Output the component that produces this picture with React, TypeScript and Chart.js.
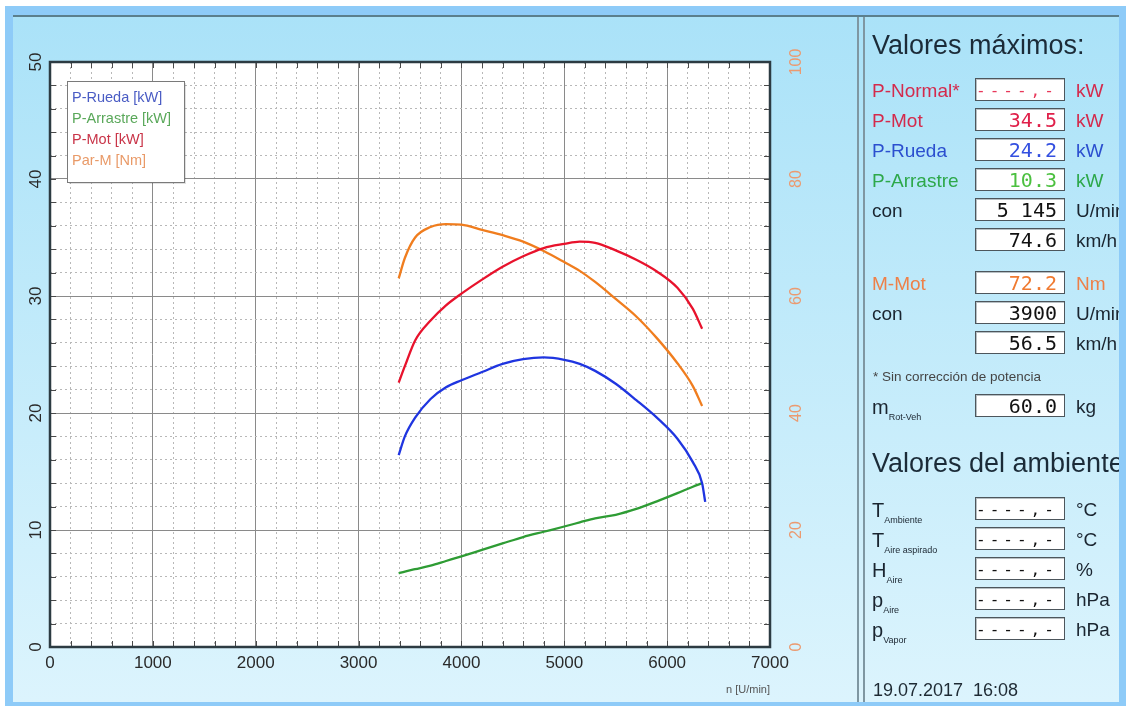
import React, { useEffect, useRef } from 'react';
import { Chart, registerables } from 'chart.js';

Chart.register(...registerables);

// ---------- chart data ----------
const rpm = [3390, 3450, 3550, 3700, 3850, 4000, 4200, 4400, 4600, 4800, 5000, 5150, 5300, 5500, 5700, 5900, 6100, 6250, 6340, 6370];
const pRueda = [16.4, 18.0, 19.6, 21.2, 22.2, 22.8, 23.5, 24.2, 24.6, 24.75, 24.55, 24.2, 23.6, 22.5, 21.1, 19.6, 17.8, 15.8, 14.0, 12.4];
const pArrastre = [6.3, 6.45, 6.65, 6.95, 7.35, 7.75, 8.3, 8.85, 9.4, 9.85, 10.3, 10.65, 11.0, 11.3, 11.8, 12.45, 13.15, 13.7, 14.0, null];
const pMot = [22.6, 24.0, 26.2, 27.9, 29.2, 30.2, 31.4, 32.5, 33.4, 34.1, 34.45, 34.65, 34.55, 33.9, 33.1, 32.1, 30.7, 28.9, 27.2, null];
const parM = [63.0, 66.5, 70.0, 71.8, 72.3, 72.2, 71.3, 70.4, 69.3, 67.7, 65.8, 64.3, 62.4, 59.5, 56.5, 52.8, 48.5, 44.6, 41.2, null];

const seriesLabels = ['P-Rueda [kW]', 'P-Arrastre [kW]', 'P-Mot [kW]', 'Par-M [Nm]'];
const seriesColors = ['#1f35e0', '#2e9c34', '#e8122c', '#f07d1e'];
const legendTextColors = ['#4a5cc4', '#5aa85a', '#c93448', '#e99a68'];

const xMajor = 1000;
const yMajor = 10;
const y2Major = 20;

const FONT = '"Liberation Sans", Arial, sans-serif';

// ---------- panel texts ----------
const maxRows = [
  { y: 90, label: 'P-Normal*', lc: '#d42a4c', value: '----,-', vc: '#e8385a', unit: 'kW', uc: '#d42a4c', dash: true },
  { y: 120, label: 'P-Mot', lc: '#d42a4c', value: '34.5', vc: '#e0204a', unit: 'kW', uc: '#d42a4c' },
  { y: 150, label: 'P-Rueda', lc: '#2b4fcf', value: '24.2', vc: '#3450e0', unit: 'kW', uc: '#2b4fcf' },
  { y: 180, label: 'P-Arrastre', lc: '#2da84a', value: '10.3', vc: '#4cc040', unit: 'kW', uc: '#2da84a' },
  { y: 210, label: 'con', lc: '#1a2530', value: '5 145', vc: '#111', unit: 'U/min', uc: '#1a2530' },
  { y: 240, label: '', lc: '#1a2530', value: '74.6', vc: '#111', unit: 'km/h', uc: '#1a2530' },
  { y: 283, label: 'M-Mot', lc: '#ee8048', value: '72.2', vc: '#f07a30', unit: 'Nm', uc: '#ee8048' },
  { y: 313, label: 'con', lc: '#1a2530', value: '3900', vc: '#111', unit: 'U/min', uc: '#1a2530' },
  { y: 343, label: '', lc: '#1a2530', value: '56.5', vc: '#111', unit: 'km/h', uc: '#1a2530' },
];

const ambRows = [
  { y: 509, main: 'T', sub: 'Ambiente', unit: '°C' },
  { y: 539, main: 'T', sub: 'Aire aspirado', unit: '°C' },
  { y: 569, main: 'H', sub: 'Aire', unit: '%' },
  { y: 599, main: 'p', sub: 'Aire', unit: 'hPa' },
  { y: 629, main: 'p', sub: 'Vapor', unit: 'hPa' },
];

const isMultiple = (v: number, m: number) => Math.abs(Math.round(v / m) * m - v) < 1e-6;

const chartDecor = {
  id: 'chartDecor',
  beforeDraw(chart: any) {
    const { ctx, chartArea: a } = chart;
    ctx.save();
    ctx.fillStyle = '#ffffff';
    ctx.fillRect(a.left, a.top, a.right - a.left, a.bottom - a.top);
    ctx.restore();
  },
  afterDatasetsDraw(chart: any) {
    const { ctx, chartArea: a, scales } = chart;
    ctx.save();
    // inner tick marks
    ctx.strokeStyle = '#4a4a4a';
    ctx.lineWidth = 1;
    const L = 6;
    ctx.beginPath();
    scales.x.ticks.forEach((t: any) => {
      const px = Math.round(scales.x.getPixelForValue(t.value)) + 0.5;
      ctx.moveTo(px, a.bottom);
      ctx.lineTo(px, a.bottom - L);
      ctx.moveTo(px, a.top);
      ctx.lineTo(px, a.top + L);
    });
    scales.y.ticks.forEach((t: any) => {
      const py = Math.round(scales.y.getPixelForValue(t.value)) + 0.5;
      ctx.moveTo(a.left, py);
      ctx.lineTo(a.left + L, py);
      ctx.moveTo(a.right, py);
      ctx.lineTo(a.right - L, py);
    });
    ctx.stroke();
    // frame
    ctx.strokeStyle = '#2c3b42';
    ctx.lineWidth = 2.5;
    ctx.strokeRect(a.left, a.top, a.right - a.left, a.bottom - a.top);
    // legend box
    const bx = a.left + 17, by = a.top + 19, bw = 117, bh = 101;
    ctx.fillStyle = 'rgba(0,0,0,0.12)';
    ctx.fillRect(bx + 2, by + 2, bw, bh);
    ctx.fillStyle = '#ffffff';
    ctx.fillRect(bx, by, bw, bh);
    ctx.strokeStyle = '#7a7a7a';
    ctx.lineWidth = 1;
    ctx.strokeRect(bx + 0.5, by + 0.5, bw, bh);
    ctx.font = '14.5px ' + FONT;
    ctx.textBaseline = 'middle';
    ctx.textAlign = 'left';
    chart.data.datasets.forEach((ds: any, i: number) => {
      ctx.fillStyle = legendTextColors[i];
      ctx.fillText(ds.label, bx + 5, by + 17 + i * 21);
    });
    ctx.restore();
  },
};

function DynoChart() {
  const ref = useRef<HTMLCanvasElement | null>(null);
  useEffect(() => {
    if (!ref.current) return;
    const mk = (arr: (number | null)[]) => rpm.map((x, i) => ({ x, y: arr[i] }));
    const lines = [pRueda, pArrastre, pMot, parM];
    const chart = new Chart(ref.current, {
      type: 'line',
      data: {
        datasets: lines.map((arr, i) => ({
          label: seriesLabels[i],
          data: mk(arr),
          borderColor: seriesColors[i],
          backgroundColor: seriesColors[i],
          borderWidth: 2.3,
          pointRadius: 0,
          fill: false,
          cubicInterpolationMode: 'monotone',
          yAxisID: i === 3 ? 'y2' : 'y',
        })),
      },
      options: {
        responsive: false,
        animation: false,
        events: [],
        layout: { padding: { top: 47, left: 0, right: 0, bottom: 0 } },
        plugins: { legend: { display: false }, tooltip: { enabled: false } },
        scales: {
          x: {
            type: 'linear',
            min: 0,
            max: 7000,
            ticks: {
              stepSize: 200,
              autoSkip: false,
              maxRotation: 0,
              minRotation: 0,
              padding: 6,
              color: '#2a2a2a',
              font: { family: FONT, size: 17 },
              callback: (v: any) => (isMultiple(Number(v), xMajor) ? String(v) : ''),
            },
            grid: {
              drawTicks: false,
              color: (c: any) => (c.tick && isMultiple(c.tick.value, xMajor) ? '#8a8a8a' : '#b8b8b8'),
              lineWidth: 1,
            },
            border: {
              display: false,
              dash: (c: any) => (c.tick && !isMultiple(c.tick.value, xMajor) ? [2, 3] : []),
            },
            title: {
              display: true,
              text: 'n [U/min]',
              align: 'end',
              color: '#555',
              font: { family: FONT, size: 11 },
              padding: { top: 0, bottom: 5 },
            },
            afterFit: (s: any) => {
              s.height = 55;
            },
          },
          y: {
            position: 'left',
            min: 0,
            max: 50,
            ticks: {
              stepSize: 2,
              autoSkip: false,
              minRotation: 90,
              maxRotation: 90,
              crossAlign: 'center',
              padding: 4,
              color: '#2a2a2a',
              font: { family: FONT, size: 17 },
              callback: (v: any) => (isMultiple(Number(v), yMajor) ? String(v) : ''),
            },
            grid: {
              drawTicks: false,
              color: (c: any) => (c.tick && isMultiple(c.tick.value, yMajor) ? '#8a8a8a' : '#b8b8b8'),
              lineWidth: 1,
            },
            border: {
              display: false,
              dash: (c: any) => (c.tick && !isMultiple(c.tick.value, yMajor) ? [2, 3] : []),
            },
            afterFit: (s: any) => {
              s.width = 37;
            },
          },
          y2: {
            position: 'right',
            min: 0,
            max: 100,
            ticks: {
              stepSize: 4,
              autoSkip: false,
              minRotation: 90,
              maxRotation: 90,
              crossAlign: 'center',
              padding: 13,
              color: '#eb9a70',
              font: { family: FONT, size: 16 },
              callback: (v: any) => (isMultiple(Number(v), y2Major) ? String(v) : ''),
            },
            grid: { display: false, drawTicks: false },
            border: { display: false },
            afterFit: (s: any) => {
              s.width = 88;
            },
          },
        },
      } as any,
      plugins: [chartDecor],
    } as any);
    return () => chart.destroy();
  }, []);
  return (
    <canvas
      ref={ref}
      width={845}
      height={687}
      style={{ position: 'absolute', left: 13, top: 15, width: 845, height: 687 }}
    />
  );
}

const Box = ({ y, value, color, dash }: any) => (
  <div
    style={{
      position: 'absolute',
      left: 975,
      top: y - 12,
      width: 90,
      height: 23,
      background: '#ffffff',
      border: '1px solid #4d565c',
      boxShadow: 'inset 1px 1px 0 #b8c0c4',
      textAlign: 'right',
      paddingRight: 7,
      boxSizing: 'border-box',
      fontFamily: '"DejaVu Sans Mono", monospace',
      fontSize: dash ? 16 : 20,
      letterSpacing: dash ? 4 : 0,
      lineHeight: '23px',
      color,
      whiteSpace: 'pre',
    }}
  >
    {value}
  </div>
);

const Txt = ({ x, y, size, color, children, extra }: any) => (
  <div
    style={{
      position: 'absolute',
      left: x,
      top: y - 15,
      height: 30,
      display: 'flex',
      alignItems: 'center',
      fontSize: size,
      color,
      whiteSpace: 'pre',
      ...(extra || {}),
    }}
  >
    {children}
  </div>
);

const SubLabel = ({ main, sub }: any) => (
  <span style={{ color: '#1a2530' }}>
    <span style={{ fontSize: 20 }}>{main}</span>
    <span style={{ fontSize: 9, position: 'relative', top: 6 }}>{sub}</span>
  </span>
);

function Panel() {
  return (
    <div style={{ position: 'absolute', left: 0, top: 0, width: 1119, height: 702, overflow: 'hidden' }}>
      <Txt x={872} y={45} size={27} color="#1b2b38">Valores máximos:</Txt>
      {maxRows.map((r, i) => (
        <React.Fragment key={i}>
          {r.label ? <Txt x={872} y={r.y + 1} size={19} color={r.lc}>{r.label}</Txt> : null}
          <Box y={r.y} value={r.value} color={r.vc} dash={r.dash} />
          <Txt x={1076} y={r.y + 1} size={19} color={r.uc}>{r.unit}</Txt>
        </React.Fragment>
      ))}
      <Txt x={873} y={376} size={13.5} color="#454545">* Sin corrección de potencia</Txt>
      <Txt x={872} y={407} size={19} color="#1a2530">
        <SubLabel main="m" sub="Rot-Veh" />
      </Txt>
      <Box y={406} value="60.0" color="#111" />
      <Txt x={1076} y={407} size={19} color="#1a2530">kg</Txt>
      <Txt x={872} y={463} size={27} color="#1b2b38">Valores del ambiente:</Txt>
      {ambRows.map((r, i) => (
        <React.Fragment key={'a' + i}>
          <Txt x={872} y={r.y + 1} size={19} color="#1a2530">
            <SubLabel main={r.main} sub={r.sub} />
          </Txt>
          <Box y={r.y} value="----,-" color="#111" dash />
          <Txt x={1076} y={r.y + 1} size={19} color="#1a2530">{r.unit}</Txt>
        </React.Fragment>
      ))}
      <Txt x={873} y={690} size={18} color="#1e2a33">19.07.2017  16:08</Txt>
    </div>
  );
}

export default function App() {
  return (
    <div
      style={{
        position: 'fixed',
        left: 0,
        top: 0,
        width: 1126,
        height: 706,
        background: '#ffffff',
        overflow: 'hidden',
        fontFamily: FONT,
      }}
    >
      <div style={{ position: 'absolute', left: 5, top: 6, width: 1121, height: 700, background: '#8ecbf8' }} />
      <div
        style={{
          position: 'absolute',
          left: 13,
          top: 15,
          width: 1106,
          height: 687,
          background: 'linear-gradient(#aae2f8, #dcf4fd)',
        }}
      />
      <div style={{ position: 'absolute', left: 13, top: 15, width: 1106, height: 2, background: '#5b7f8d' }} />
      <div style={{ position: 'absolute', left: 857, top: 17, width: 2, height: 685, background: '#7f97a2' }} />
      <div style={{ position: 'absolute', left: 863, top: 17, width: 2, height: 685, background: '#7f97a2' }} />
      <DynoChart />
      <Panel />
    </div>
  );
}
